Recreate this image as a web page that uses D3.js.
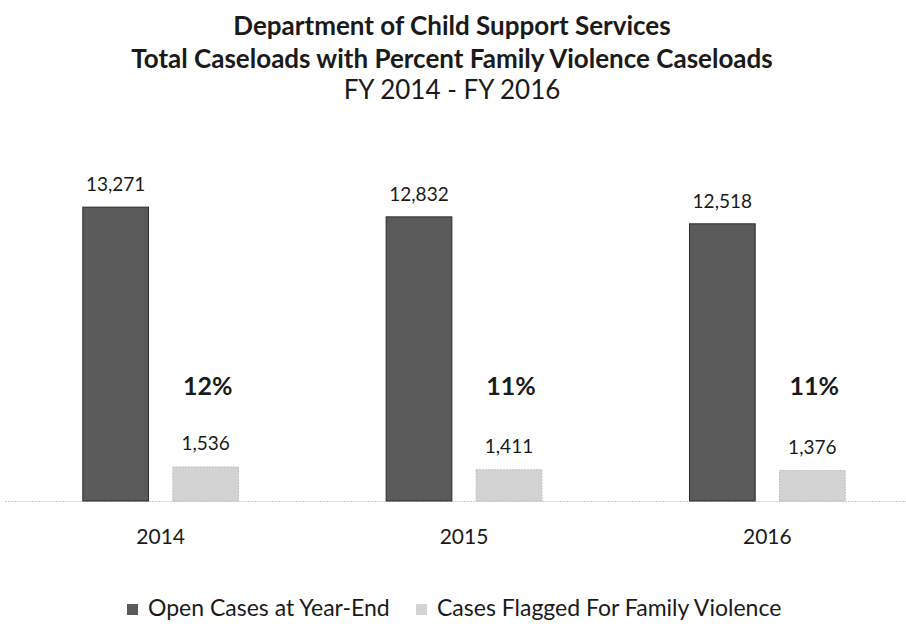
<!DOCTYPE html>
<html>
<head>
<meta charset="utf-8">
<script src="https://cdn.jsdelivr.net/npm/d3@7"></script>
<style>
  html, body { margin: 0; padding: 0; background: #fff; }
  text { font-family: Lato, "Noto Sans", sans-serif; fill: #1a1a1a; }
</style>
</head>
<body>
<svg id="chart" width="906" height="624"></svg>
<script>
const years = ["2014", "2015", "2016"];
const openCases = [13271, 12832, 12518];
const flaggedCases = [1536, 1411, 1376];
const seriesNames = ["Open Cases at Year-End", "Cases Flagged For Family Violence"];
const titleLines = ["Department of Child Support Services",
                    "Total Caseloads with Percent Family Violence Caseloads",
                    "FY 2014 - FY 2016"];
const yMax = 14000;

const svg = d3.select("#chart");
const colors = ["#5a5a5a", "#d3d3d3"];
const strokes = ["#2a2a2a", "#bdbdbd"];

const x = d3.scaleBand().domain(years).range([9, 919]).paddingInner(0).paddingOuter(0);
const inner = d3.scaleBand().domain(["open", "flag"]).range([0, x.bandwidth()]).paddingInner(0.27).paddingOuter(0.82);
const y = d3.scaleLinear().domain([0, yMax]).range([501, 191]);

// Title
const tcx = 452;
svg.append("text").attr("x", tcx).attr("y", 35).attr("text-anchor", "middle")
  .style("font-weight", "bold").style("font-size", "26px").text(titleLines[0]);
svg.append("text").attr("x", tcx).attr("y", 68).attr("text-anchor", "middle")
  .style("font-weight", "bold").style("font-size", "26px").text(titleLines[1]);
svg.append("text").attr("x", tcx).attr("y", 99).attr("text-anchor", "middle")
  .style("font-size", "26px").text(titleLines[2]);

// baseline
svg.append("line").attr("x1", 5).attr("x2", 906).attr("y1", y(0) + 0.5).attr("y2", y(0) + 0.5)
  .attr("stroke", "#cfcfcf").attr("stroke-width", 1).attr("stroke-dasharray", "2,1");

const data = years.map((yr, i) => ({ year: yr, open: openCases[i], flag: flaggedCases[i] }));

const g = svg.append("g").selectAll("g").data(data).join("g")
  .attr("transform", d => `translate(${x(d.year)},0)`);

g.append("rect").attr("x", inner("open")).attr("width", inner.bandwidth())
  .attr("y", d => y(d.open)).attr("height", d => y(0) - y(d.open))
  .attr("fill", colors[0]).attr("stroke", strokes[0]).attr("stroke-width", 1);
g.append("rect").attr("x", inner("flag")).attr("width", inner.bandwidth())
  .attr("y", d => y(d.flag)).attr("height", d => y(0) - y(d.flag))
  .attr("fill", colors[1]).attr("stroke", strokes[1]).attr("stroke-width", 1).attr("stroke-dasharray", "2,1");

const fmt = d3.format(",");
g.append("text").attr("x", inner("open") + inner.bandwidth() / 2).attr("y", d => y(d.open) - 16)
  .attr("text-anchor", "middle").style("font-size", "19px").text(d => fmt(d.open));
g.append("text").attr("x", inner("flag") + inner.bandwidth() / 2).attr("y", d => y(d.flag) - 17)
  .attr("text-anchor", "middle").style("font-size", "19px").text(d => fmt(d.flag));
g.append("text").attr("x", inner("flag") + inner.bandwidth() / 2 + 2).attr("y", 395)
  .attr("text-anchor", "middle").style("font-size", "25px").style("font-weight", "bold")
  .text(d => d3.format(".0%")(d.flag / d.open));

// x axis labels
svg.append("g").attr("transform", `translate(0,${y(0)})`)
  .call(d3.axisBottom(x).tickSize(0).tickPadding(0))
  .call(a => a.select(".domain").remove())
  .selectAll("text").attr("dy", null).attr("y", 43).style("font-size", "21px")
  .style("font-family", "Lato, 'Noto Sans', sans-serif").attr("fill", "#1a1a1a");

// Legend
const legend = svg.append("g").attr("transform", "translate(0,616)");
const lx = [127, 416];
seriesNames.forEach((name, i) => {
  legend.append("rect").attr("x", lx[i]).attr("y", -12).attr("width", 11).attr("height", 11)
    .attr("fill", colors[i]);
  legend.append("text").attr("x", lx[i] + 21).attr("y", 0).style("font-size", "23px").text(name);
});
</script>
</body>
</html>
